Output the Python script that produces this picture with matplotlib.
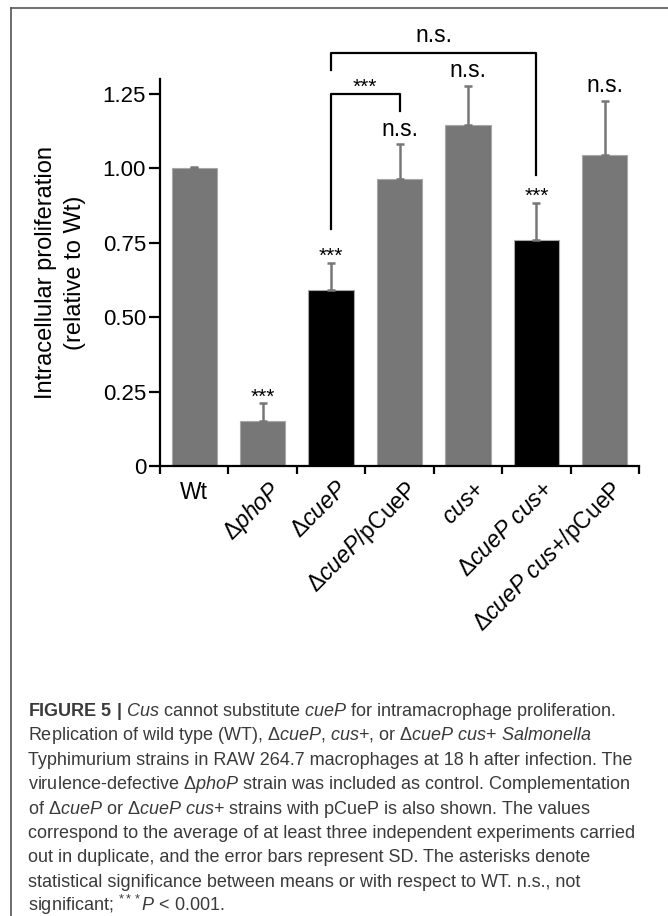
import numpy as np
import matplotlib
matplotlib.use('Agg')
import matplotlib.pyplot as plt
from matplotlib.lines import Line2D

plt.rcParams['font.family'] = ['Liberation Sans', 'DejaVu Sans']
plt.rcParams['mathtext.fontset'] = 'custom'
plt.rcParams['mathtext.rm'] = 'Liberation Sans'
plt.rcParams['mathtext.it'] = 'Liberation Sans:italic'
plt.rcParams['mathtext.bf'] = 'Liberation Sans:bold'

# strains, mean proliferation relative to WT, SD
strains = ['Wt', r'Δ$\mathit{phoP}$', r'Δ$\mathit{cueP}$', r'Δ$\mathit{cueP}$/pCueP',
           r'$\mathit{cus}$+', r'Δ$\mathit{cueP\ cus}$+', r'Δ$\mathit{cueP\ cus}$+/pCueP']
means = [1.00, 0.15, 0.59, 0.965, 1.145, 0.76, 1.045]
sd = [0.004, 0.06, 0.093, 0.115, 0.133, 0.125, 0.18]
cueP_deleted = [False, False, True, False, False, True, False]
sig = ['', '***', '***', 'n.s.', 'n.s.', '***', 'n.s.']

# comparisons between bars: (left, right, label)
comparisons = [(2, 3, '***'), (2, 5, 'n.s.')]

caption = [
    r'$\mathbf{FIGURE\ 5\ |}$ $\mathit{Cus}$ cannot substitute $\mathit{cueP}$ for intramacrophage proliferation.',
    r'Replication of wild type (WT), Δ$\mathit{cueP}$, $\mathit{cus}$+, or Δ$\mathit{cueP\ cus}$+ $\mathit{Salmonella}$',
    'Typhimurium strains in RAW 264.7 macrophages at 18 h after infection. The',
    r'virulence-defective Δ$\mathit{phoP}$ strain was included as control. Complementation',
    r'of Δ$\mathit{cueP}$ or Δ$\mathit{cueP\ cus}$+ strains with pCueP is also shown. The values',
    'correspond to the average of at least three independent experiments carried',
    'out in duplicate, and the error bars represent SD. The asterisks denote',
    'statistical significance between means or with respect to WT. n.s., not',
    r'significant; $^{***}\mathit{P}$ < 0.001.',
]

W, H = 668, 916
fig = plt.figure(figsize=(W / 100, H / 100), dpi=100)
ax = fig.add_axes([160 / W, 1 - 466 / H, (639 - 160) / W, (466 - 79) / H])

x = np.arange(len(strains))
colors = ['black' if d else '#777777' for d in cueP_deleted]
ax.bar(x, means, width=0.66, color=colors, edgecolor='#a8a8a8', linewidth=0.8, zorder=2)
ax.errorbar(x, means, yerr=[np.zeros(len(x)), sd], fmt='none', ecolor='#777777',
            elinewidth=1.8, capsize=3, capthick=1.8, zorder=3)

ax.set_xlim(-0.5, len(x) - 0.5)
ax.set_ylim(0, 1.3)
for s in ['top', 'right']:
    ax.spines[s].set_visible(False)
for s in ['left', 'bottom']:
    ax.spines[s].set_linewidth(1.6)

ax.set_yticks([0, 0.25, 0.5, 0.75, 1.0, 1.25])
ax.set_yticklabels(['0', '0.25', '0.50', '0.75', '1.00', '1.25'])
ax.tick_params(axis='y', length=8, width=1.6, labelsize=16, pad=2)
ax.set_xticks(np.arange(-0.5, len(x), 1))
ax.set_xticklabels([])
ax.tick_params(axis='x', length=6, width=1.6)

# category labels, first one flat and the rest at 45 degrees
for i, lab in enumerate(strains):
    if i == 0:
        ax.annotate(lab, xy=(i, 0), xycoords=('data', 'axes fraction'), xytext=(0, -11),
                    textcoords='offset points', ha='center', va='top', fontsize=16.5)
    else:
        ax.annotate(lab, xy=(i + 0.07, 0), xycoords=('data', 'axes fraction'), xytext=(0, -8),
                    textcoords='offset points', ha='right', va='top', fontsize=16.5,
                    rotation=45, rotation_mode='anchor')

ax.text(-0.207, 0.5, 'Intracellular proliferation\n(relative to Wt)', transform=ax.transAxes,
        rotation=90, ha='center', va='center', fontsize=17, linespacing=1.4)

# marks over each bar
for i in range(len(x)):
    top = means[i] + sd[i]
    if sig[i] == '***':
        ax.text(i, top + 0.002, sig[i], ha='center', va='baseline', fontsize=15)
    elif sig[i]:
        ax.text(i, top + 0.03, sig[i], ha='center', va='baseline', fontsize=16.5)

# brackets
lw = 1.6
l, r, lab = comparisons[0]
ax.plot([l, l, r, r], [0.797, 1.25, 1.25, 1.193], color='black', lw=lw, clip_on=False)
ax.text((l + r) / 2, 1.253, lab, ha='center', va='baseline', fontsize=15)
l, r, lab = comparisons[1]
ax.plot([l, l, r, r], [1.33, 1.387, 1.387, 0.977], color='black', lw=lw, clip_on=False)
ax.text((l + r) / 2, 1.425, lab, ha='center', va='baseline', fontsize=16.5)

# caption
for k, line in enumerate(caption):
    fig.text(28 / W, 1 - (716 + 24.4 * k) / H, line, fontsize=13, color='#3a3a3a', va='baseline')

# page frame
fig.add_artist(Line2D([11 / W, 1], [1 - 8 / H] * 2, transform=fig.transFigure, color='#555555', lw=1.2))
fig.add_artist(Line2D([11 / W] * 2, [0, 1 - 8 / H], transform=fig.transFigure, color='#555555', lw=1.2))

fig.savefig('out.png', dpi=100)
